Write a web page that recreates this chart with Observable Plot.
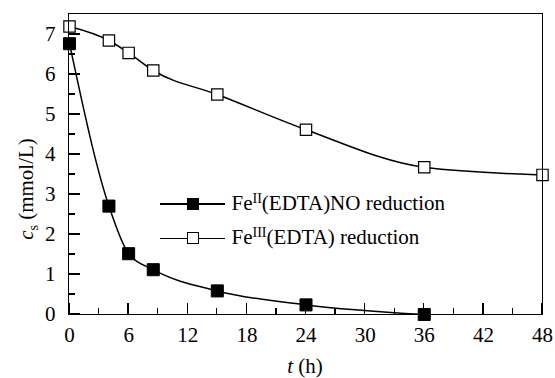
<!DOCTYPE html>
<html><head><meta charset="utf-8">
<script src="https://cdn.jsdelivr.net/npm/d3@7"></script>
<script src="https://cdn.jsdelivr.net/npm/@observablehq/plot@0.6"></script>
<style>
@font-face{font-family:"SerifX";src:local("Liberation Serif"),local("LiberationSerif"),local("LiberationSerif-Regular"),local("Times New Roman");font-style:normal;}
@font-face{font-family:"SerifX";src:local("Liberation Serif Italic"),local("LiberationSerif-Italic"),local("Times New Roman Italic");font-style:italic;}
body{margin:0;background:#fff;}
#wrap{position:relative;width:555px;height:378px;font:21px "Liberation Serif","SerifX","Times New Roman","DejaVu Serif",serif;color:#000;}
#wrap svg{position:absolute;left:0;top:0;}
.ov{position:absolute;white-space:nowrap;line-height:1;}
.ov sup{font-size:14px;vertical-align:0;position:relative;top:-7px;}
.ov sub{font-size:14px;vertical-align:0;position:relative;top:5px;}
.lg{position:absolute;left:160px;width:66px;height:14px;}
.lg .ln{position:absolute;left:0;top:6.5px;width:65px;height:1.5px;background:#000;}
.lg .mk{position:absolute;left:26.5px;top:1px;width:10px;height:10px;border:1.2px solid #000;}
.tk{position:absolute;background:#000;}
.fr{position:absolute;box-sizing:border-box;border:1.3px solid #000;}
</style></head><body><div id="wrap"></div>
<script>
const tFe2 = [0, 4, 6, 8.5, 15, 24, 36];
const cFe2 = [6.77, 2.71, 1.52, 1.12, 0.59, 0.24, 0.0];
const tFe3 = [0, 4, 6, 8.5, 15, 24, 36, 48];
const cFe3 = [7.2, 6.85, 6.54, 6.1, 5.5, 4.62, 3.68, 3.49];
const xTicks = [0, 6, 12, 18, 24, 30, 36, 42, 48];
const xMinor = [3, 9, 15, 21, 27, 33, 39, 45];
const yTicks = [0, 1, 2, 3, 4, 5, 6, 7];
const yMinor = [0.5, 1.5, 2.5, 3.5, 4.5, 5.5, 6.5];
const legendNames = [["Fe", "II", "(EDTA)NO reduction"], ["Fe", "III", "(EDTA) reduction"]];

const fe2 = tFe2.map((t, i) => ({t, c: cFe2[i]}));
const fe3 = tFe3.map((t, i) => ({t, c: cFe3[i]}));
const FONT = "'Liberation Serif', SerifX, 'Times New Roman', 'DejaVu Serif', serif";

const plot = Plot.plot({
  width: 555, height: 378,
  marginLeft: 69, marginRight: 13, marginTop: 14, marginBottom: 64,
  style: {fontFamily: FONT, fontSize: "21px"},
  x: {domain: [0, 48]},
  y: {domain: [0, 7.5]},
  marks: [
    Plot.axisX(xTicks, {tickSize: 0, tickPadding: 13, fontSize: 21, label: null}),
    Plot.axisY(yTicks, {tickSize: 0, tickPadding: 14, fontSize: 21, label: null}),
    Plot.line(fe3, {x: "t", y: "c", curve: "monotone-x", stroke: "#000", strokeWidth: 1.5}),
    Plot.line(fe2, {x: "t", y: "c", curve: "monotone-x", stroke: "#000", strokeWidth: 1.5}),
    Plot.dot(fe3, {x: "t", y: "c", symbol: "square", r: 6.4, fill: "#fff", stroke: "#000", strokeWidth: 1.2}),
    Plot.dot(fe2, {x: "t", y: "c", symbol: "square", r: 6.8, fill: "#000", stroke: "#000", strokeWidth: 1})
  ]
});
const wrap = document.getElementById("wrap");
wrap.appendChild(plot);

const sx = plot.scale("x"), sy = plot.scale("y");
const [x0, x1] = sx.range, [y0, y1] = sy.range; // y0 bottom, y1 top
function box(cls, l, t, w, h) {
  const d = document.createElement("div");
  d.className = cls;
  Object.assign(d.style, {left: l + "px", top: t + "px", width: w + "px", height: h + "px"});
  wrap.appendChild(d);
}
// frame
box("fr", x0 - 0.65, y1 - 0.65, x1 - x0 + 1.3, y0 - y1 + 1.3);
// inward ticks (positions from Plot's scales)
xTicks.forEach(v => box("tk", sx.apply(v) - 0.65, y0 - 11, 1.3, 11));
xMinor.forEach(v => box("tk", sx.apply(v) - 0.65, y0 - 6, 1.3, 6));
yTicks.forEach(v => box("tk", x0, sy.apply(v) - 0.65, 11, 1.3));
yMinor.forEach(v => box("tk", x0, sy.apply(v) - 0.65, 6, 1.3));

function ov(html, css) {
  const d = document.createElement("div");
  d.className = "ov";
  d.innerHTML = html;
  Object.assign(d.style, css);
  wrap.appendChild(d);
  return d;
}
ov("<i>c</i><sub>s</sub> (mmol/L)", {left: "26px", top: "189px", transform: "translate(-50%,-50%) rotate(-90deg)", transformOrigin: "50% 50%"});
ov("<i>t</i> (h)", {left: "305px", top: "356px", transform: "translateX(-50%)"});
const rows = [203.5, 238];
legendNames.forEach((p, i) => {
  const lg = document.createElement("div");
  lg.className = "lg";
  lg.style.top = (rows[i] - 7) + "px";
  lg.innerHTML = `<div class="ln"></div><div class="mk" style="background:${i === 0 ? "#000" : "#fff"}"></div>`;
  wrap.appendChild(lg);
  ov(`${p[0]}<sup>${p[1]}</sup>${p[2]}`, {left: "231.5px", top: (rows[i] - 11) + "px"});
});
</script>
</body></html>
